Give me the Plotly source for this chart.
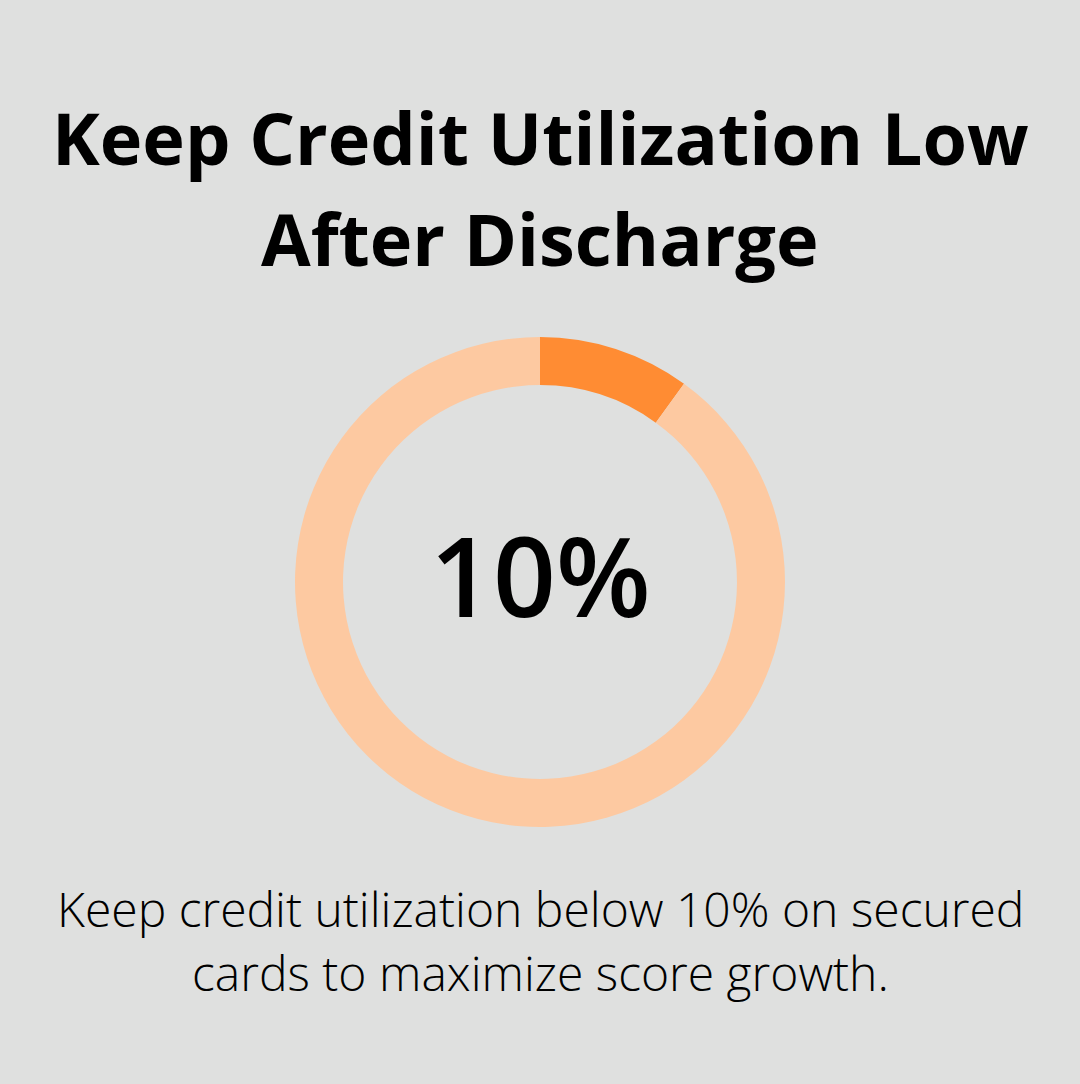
import plotly.graph_objects as go

# donut data
labels = ['Utilization', 'Remaining']
values = [10, 90]
colors = ['#FF8C33', '#FDC9A1']

title_lines = ['Keep Credit Utilization Low', 'After Discharge']
center_text = '10%'
caption_lines = ['Keep credit utilization below 10% on secured', 'cards to maximize score growth.']

BG = '#DFE0DF'
W, H = 1080, 1084

fig = go.Figure()
fig.add_trace(go.Pie(labels=labels, values=values, hole=0.804, sort=False,
                     direction='clockwise', rotation=0,
                     marker=dict(colors=colors, line=dict(width=0)),
                     textinfo='none', hoverinfo='label+percent', showlegend=False,
                     domain=dict(x=[(540 - 245) / W, (540 + 245) / W],
                                 y=[(H - 827) / H, (H - 337) / H])))


def add_text(text, y_px, size, weight):
    fig.add_annotation(text=text, x=0.5, y=1 - y_px / H, xref='paper', yref='paper',
                       xanchor='center', yanchor='middle', showarrow=False,
                       font=dict(family='Open Sans', size=size, color='#000000', weight=weight))


add_text(title_lines[0], 137, 72, 700)
add_text(title_lines[1], 238, 72, 700)
add_text(center_text, 574, 110, 600)
add_text(caption_lines[0], 908, 48, 300)
add_text(caption_lines[1], 972, 48, 300)

fig.update_layout(width=W, height=H, paper_bgcolor=BG, plot_bgcolor=BG,
                  margin=dict(l=0, r=0, t=0, b=0))
# drop the default page margin so the figure fills the window
fig.write_html('out.html', config={'displayModeBar': False},
               post_script="document.body.style.margin='0';")
